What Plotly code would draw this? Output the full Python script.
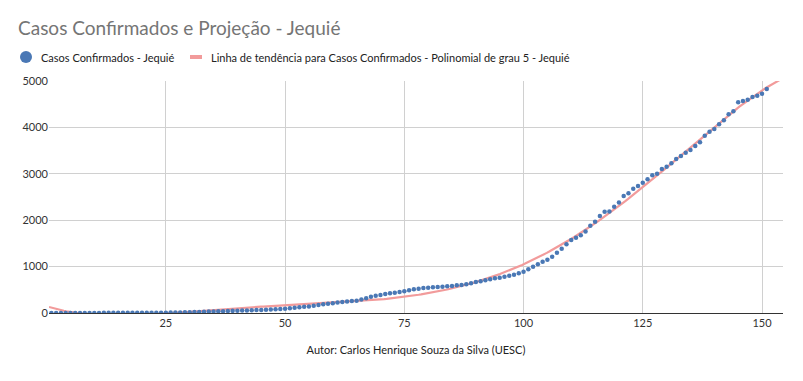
import numpy as np
import plotly.graph_objects as go

days = list(range(1, 152))
cases = [
    0, 0, 0, 1, 1, 1, 1, 2, 2, 2,
    2, 3, 3, 3, 3, 4, 4, 4, 5, 5,
    5, 6, 6, 7, 8, 9, 10,
    12, 14, 17, 20, 23, 27, 30, 33, 37, 40, 43, 46, 49, 52, 55, 58, 62, 65, 70, 75, 80, 86, 93,
    105, 115, 124, 133, 142, 155, 170, 187, 200, 212,
    224, 236, 246, 256, 266, 290, 320, 352, 374, 390,
    407, 424, 438, 452, 470, 490, 510, 524, 539, 546,
    553, 560, 567, 575, 582, 596, 604, 618, 640, 668,
    682, 704, 726, 747, 761, 783, 805, 826, 855, 890,
    941, 998, 1049, 1106, 1150, 1213, 1300, 1383, 1483, 1573,
    1623, 1678, 1756, 1878, 1968, 2090, 2180, 2185, 2291, 2380,
    2522, 2580, 2679, 2737, 2808, 2881, 2968, 3002, 3103, 3153,
    3226, 3319, 3384, 3455, 3513, 3599, 3679, 3821, 3908, 3966,
    4067, 4153, 4282, 4347, 4541, 4569, 4597, 4655, 4684, 4726, 4828,
]
x_ticks = [25, 50, 75, 100, 125, 150]
y_ticks = [0, 1000, 2000, 3000, 4000, 5000]
name_cases = "Casos Confirmados - Jequié"
name_trend = "Linha de tendência para Casos Confirmados - Polinomial de grau 5 - Jequié"

# degree-5 polynomial trend line fitted to the data (as the spreadsheet does)
coef = np.polyfit(np.array(days, float), np.array(cases, float), 5)
trend_x = np.linspace(0.5, 155, 300)
trend_y = np.polyval(coef, trend_x)

FONT = "Lato"
W, H = 803, 381
L, R, T, B = 49, 20, 81, 68
PW = W - L - R
PH = H - T - B
BLUE = "#4a78b5"
PINK = "#f29b9b"


def px(xp):
    return (xp - L) / PW


def py(yp):
    return (H - B - yp) / PH


fig = go.Figure()
fig.add_trace(go.Scatter(x=trend_x, y=trend_y, mode="lines", name=name_trend,
                         line=dict(color=PINK, width=2.2)))
fig.add_trace(go.Scatter(x=days, y=cases, mode="markers", name=name_cases,
                         marker=dict(color=BLUE, size=4.5)))

# manual legend (positions in pixels, converted to paper coordinates)
LEG_Y = 57
fig.add_shape(type="circle", xref="paper", yref="paper",
              x0=px(20), x1=px(32), y0=py(LEG_Y + 6), y1=py(LEG_Y - 6),
              fillcolor=BLUE, line=dict(width=0))
fig.add_shape(type="line", xref="paper", yref="paper",
              x0=px(190), x1=px(202), y0=py(LEG_Y), y1=py(LEG_Y),
              line=dict(color=PINK, width=4))
fig.add_annotation(text=name_cases, xref="paper", yref="paper", x=px(39), y=py(LEG_Y),
                   xanchor="left", yanchor="middle", showarrow=False,
                   font=dict(family=FONT, size=11, color="#222222"))
fig.add_annotation(text=name_trend, xref="paper", yref="paper", x=px(209), y=py(LEG_Y),
                   xanchor="left", yanchor="middle", showarrow=False,
                   font=dict(family=FONT, size=11, color="#222222"))

fig.update_layout(
    width=W, height=H,
    margin=dict(l=L, r=R, t=T, b=B, autoexpand=False),
    paper_bgcolor="white", plot_bgcolor="white",
    font=dict(family=FONT, size=11, color="#333333"),
    title=dict(text="Casos Confirmados e Projeção - Jequié", x=18 / W, xanchor="left",
               y=1 - 28 / H, yanchor="middle", yref="container",
               font=dict(family=FONT, size=19, color="#757575")),
    showlegend=False,
    xaxis=dict(range=[0.5, 154.4], tickvals=x_ticks, showgrid=True, gridcolor="#d0d0d0",
               zeroline=False, showline=True, linecolor="#333333", linewidth=1,
               ticks="", title=dict(text="Autor: Carlos Henrique Souza da Silva (UESC)",
                                    font=dict(size=11, color="#222222"), standoff=18)),
    yaxis=dict(range=[0, 5000], tickvals=y_ticks, showgrid=True, gridcolor="#d0d0d0",
               zeroline=False, showline=False, ticks="", ticksuffix=" "),
)
fig.write_html("out.html", config={"displayModeBar": False},
               post_script="document.body.style.margin='0px';")
